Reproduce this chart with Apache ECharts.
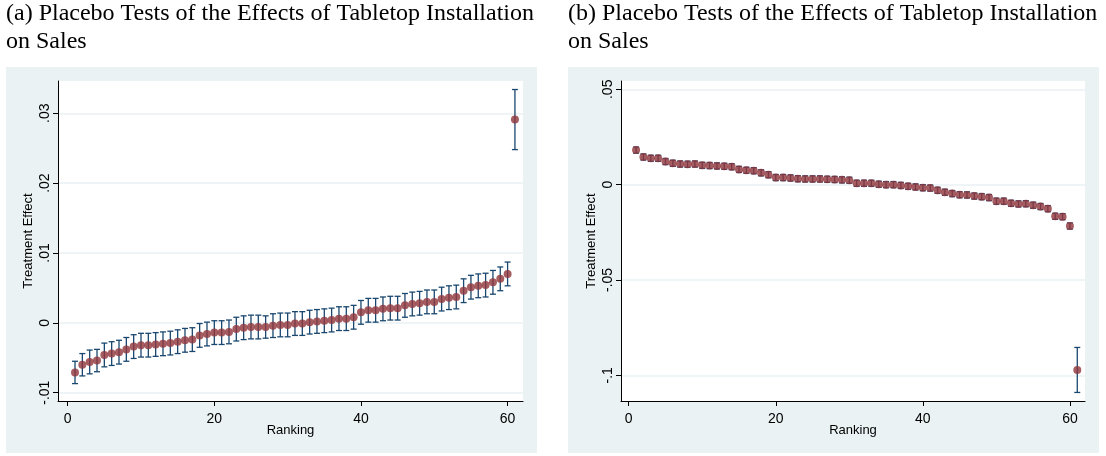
<!DOCTYPE html>
<html>
<head>
<meta charset="utf-8">
<script src="https://cdn.jsdelivr.net/npm/echarts@6/dist/echarts.min.js"></script>
<style>
  html, body { margin: 0; padding: 0; background: #fff; }
  #chart { width: 1106px; height: 456px; }
</style>
</head>
<body>
<div id="chart"></div>
<script>
// ranking positions (x)
var ranking = [1,2,3,4,5,6,7,8,9,10,11,12,13,14,15,16,17,18,19,20,
  21,22,23,24,25,26,27,28,29,30,31,32,33,34,35,36,37,38,39,40,
  41,42,43,44,45,46,47,48,49,50,51,52,53,54,55,56,57,58,59,60,61];

// (a) point estimates and CI half-widths
var effectA = [-0.0071,-0.0060,-0.0056,-0.0054,-0.0046,-0.0044,-0.0042,-0.0038,-0.0034,-0.0032,
  -0.0032,-0.0031,-0.0030,-0.0029,-0.0027,-0.0025,-0.0024,-0.0018,-0.0016,-0.0014,
  -0.0014,-0.0013,-0.0009,-0.0007,-0.0006,-0.0006,-0.0006,-0.0004,-0.0003,-0.0003,
  -0.0001,-0.0001,0.0001,0.0002,0.0003,0.0004,0.0006,0.0006,0.0008,0.0015,
  0.0018,0.0018,0.0020,0.0021,0.0021,0.0025,0.0027,0.0028,0.0030,0.0030,
  0.0034,0.0036,0.0037,0.0046,0.0051,0.0053,0.0054,0.0058,0.0063,0.0070,0.0291];
var ciA = [0.0016,0.0016,0.0017,0.0016,0.0017,0.0017,0.0017,0.0017,0.0017,0.0017,
  0.0017,0.0017,0.0017,0.0017,0.0017,0.0017,0.0017,0.0017,0.0017,0.0017,
  0.0017,0.0017,0.0017,0.0017,0.0017,0.0017,0.0016,0.0017,0.0017,0.0017,
  0.0017,0.0017,0.0017,0.0017,0.0017,0.0017,0.0017,0.0017,0.0017,0.0017,
  0.0017,0.0017,0.0017,0.0017,0.0017,0.0017,0.0017,0.0017,0.0017,0.0017,
  0.0017,0.0017,0.0017,0.0017,0.0017,0.0017,0.0017,0.0017,0.0017,0.0017,0.0043];

// (b) point estimates and CI half-widths
var effectB = [0.0181,0.0145,0.0138,0.0138,0.0121,0.0112,0.0108,0.0107,0.0108,0.0101,
  0.0100,0.0098,0.0096,0.0094,0.0080,0.0075,0.0073,0.0062,0.0052,0.0037,
  0.0037,0.0035,0.0031,0.0030,0.0030,0.0030,0.0028,0.0027,0.0025,0.0023,
  0.0007,0.0007,0.0007,0.0002,0.0000,0.0000,-0.0004,-0.0009,-0.0012,-0.0016,
  -0.0018,-0.0030,-0.0040,-0.0047,-0.0053,-0.0054,-0.0060,-0.0063,-0.0068,-0.0087,
  -0.0087,-0.0098,-0.0101,-0.0100,-0.0108,-0.0115,-0.0126,-0.0166,-0.0168,-0.0217,-0.0972];
var ciB = [0.0016,0.0016,0.0016,0.0016,0.0016,0.0016,0.0016,0.0016,0.0016,0.0016,
  0.0016,0.0016,0.0016,0.0016,0.0016,0.0016,0.0016,0.0016,0.0016,0.0016,
  0.0016,0.0016,0.0016,0.0016,0.0016,0.0016,0.0016,0.0016,0.0016,0.0016,
  0.0016,0.0016,0.0016,0.0016,0.0016,0.0016,0.0016,0.0016,0.0016,0.0016,
  0.0016,0.0016,0.0016,0.0016,0.0016,0.0016,0.0016,0.0016,0.0016,0.0016,
  0.0016,0.0016,0.0016,0.0016,0.0016,0.0016,0.0016,0.0016,0.0016,0.0016,0.0118];

// tick values and labels
var xTicks = [0, 20, 40, 60];
var yTicksA = [-0.01, 0, 0.01, 0.02, 0.03];
var yLabelsA = ['-.01', '0', '.01', '.02', '.03'];
var yTicksB = [-0.1, -0.05, 0, 0.05];
var yLabelsB = ['-.1', '-.05', '0', '.05'];

var titleA = '(a) Placebo Tests of the Effects of Tabletop Installation\non Sales';
var titleB = '(b) Placebo Tests of the Effects of Tabletop Installation\non Sales';

var navy = '#1a476f', maroon = '#90353b', panelBg = '#eaf2f3';
var sans = 'Liberation Sans', serif = 'Liberation Serif';

function ciData(vals, ci) {
  return ranking.map(function (r, i) { return [r, vals[i] - ci[i], vals[i] + ci[i]]; });
}
function ptData(vals) {
  return ranking.map(function (r, i) { return [r, vals[i]]; });
}
function renderCap(params, api) {
  var x = api.value(0);
  var lo = api.coord([x, api.value(1)]);
  var hi = api.coord([x, api.value(2)]);
  var w = 3;
  var st = { stroke: navy, lineWidth: 1.3 };
  return {
    type: 'group',
    children: [
      { type: 'line', shape: { x1: hi[0], y1: hi[1], x2: lo[0], y2: lo[1] }, style: st },
      { type: 'line', shape: { x1: hi[0] - w, y1: hi[1], x2: hi[0] + w, y2: hi[1] }, style: st },
      { type: 'line', shape: { x1: lo[0] - w, y1: lo[1], x2: lo[0] + w, y2: lo[1] }, style: st }
    ]
  };
}
function xAxisCfg(gi, min, max) {
  return {
    type: 'value', gridIndex: gi, min: min, max: max,
    name: 'Ranking', nameLocation: 'middle', nameGap: 23, nameMoveOverlap: false,
    nameTextStyle: { fontFamily: sans, fontSize: 13, color: '#000' },
    axisLine: { show: true, onZero: false, lineStyle: { color: '#000', width: 1 } },
    axisTick: { show: true, length: 5, customValues: xTicks, lineStyle: { color: '#000' } },
    axisLabel: { customValues: xTicks, margin: 11, fontFamily: sans, fontSize: 14, color: '#000' },
    splitLine: { show: false }
  };
}
function yAxisCfg(gi, min, max, ticks, labels) {
  return {
    type: 'value', gridIndex: gi, min: min, max: max,
    name: 'Treatment Effect', nameLocation: 'middle', nameGap: 23, nameRotate: 90,
    nameMoveOverlap: false,
    nameTextStyle: { fontFamily: sans, fontSize: 13, color: '#000' },
    axisLine: { show: true, onZero: false, lineStyle: { color: '#000', width: 1 } },
    axisTick: { show: true, length: 5, customValues: ticks, lineStyle: { color: '#000' } },
    axisLabel: {
      customValues: ticks, rotate: 90, margin: 6, fontFamily: sans, fontSize: 14, color: '#000',
      formatter: function (v) {
        for (var i = 0; i < ticks.length; i++) if (Math.abs(ticks[i] - v) < 1e-9) return labels[i];
        return '';
      }
    },
    splitLine: { show: true, lineStyle: { color: panelBg, width: 1.5 } }
  };
}

var chart = echarts.init(document.getElementById('chart'));
chart.setOption({
  animation: false,
  backgroundColor: '#fff',
  graphic: [
    { type: 'rect', z: -10, shape: { x: 6, y: 67, width: 531, height: 386 }, style: { fill: panelBg } },
    { type: 'rect', z: -10, shape: { x: 568, y: 67, width: 531, height: 386 }, style: { fill: panelBg } }
  ],
  title: [
    { text: titleA, left: 6, top: 0, padding: 0,
      textStyle: { fontFamily: serif, fontSize: 24, fontWeight: 'normal', color: '#000', lineHeight: 28 } },
    { text: titleB, left: 568, top: 0, padding: 0,
      textStyle: { fontFamily: serif, fontSize: 24, fontWeight: 'normal', color: '#000', lineHeight: 28 } }
  ],
  grid: [
    { left: 58, top: 81, width: 465, height: 320, show: true, backgroundColor: '#fff', borderWidth: 0 },
    { left: 621, top: 81, width: 464, height: 320, show: true, backgroundColor: '#fff', borderWidth: 0 }
  ],
  xAxis: [xAxisCfg(0, -1.32, 62.1), xAxisCfg(1, -1.05, 62.05)],
  yAxis: [
    yAxisCfg(0, -0.01119, 0.03462, yTicksA, yLabelsA),
    yAxisCfg(1, -0.11348, 0.05435, yTicksB, yLabelsB)
  ],
  series: [
    { type: 'custom', xAxisIndex: 0, yAxisIndex: 0, renderItem: renderCap,
      encode: { x: 0, y: [1, 2] }, data: ciData(effectA, ciA), z: 2 },
    { type: 'scatter', xAxisIndex: 0, yAxisIndex: 0, symbol: 'circle', symbolSize: 8,
      itemStyle: { color: maroon }, data: ptData(effectA), z: 3 },
    { type: 'custom', xAxisIndex: 1, yAxisIndex: 1, renderItem: renderCap,
      encode: { x: 0, y: [1, 2] }, data: ciData(effectB, ciB), z: 2 },
    { type: 'scatter', xAxisIndex: 1, yAxisIndex: 1, symbol: 'circle', symbolSize: 8,
      itemStyle: { color: maroon }, data: ptData(effectB), z: 3 }
  ]
});
</script>
</body>
</html>
